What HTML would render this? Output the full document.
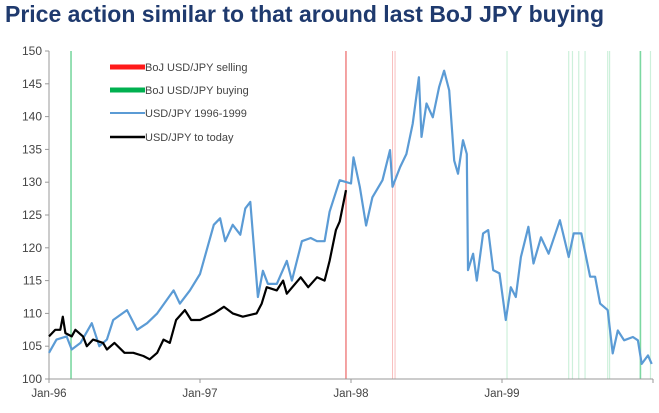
<!DOCTYPE html>
<html><head><meta charset="utf-8"><style>
body{margin:0;background:#fff;width:659px;height:413px;overflow:hidden;font-family:"Liberation Sans",sans-serif}
#title{position:absolute;left:5px;top:1px;font-size:23px;font-weight:bold;color:#1f3a6e;white-space:nowrap}
svg{position:absolute;left:0;top:0}
</style></head><body>
<div id="title">Price action similar to that around last BoJ JPY buying</div>
<svg id="chart" width="659" height="413"></svg>
<script>
const yTicks=[100,105,110,115,120,125,130,135,140,145,150];
const xTickLabels=["Jan-96","Jan-97","Jan-98","Jan-99"];
const xTickMonths=[0,12,24,36];
const blueMonths=[0,0.6,1.4,1.8,2.5,3.4,4,4.6,5.1,6.2,7,7.8,8.6,9.9,10.4,11.2,12,13.1,13.6,14,14.6,15.2,15.6,16,16.5,16.6,17,17.4,18.1,18.9,19.3,19.7,20.1,20.8,21.3,21.9,22.3,23.1,24,24.2,24.7,25.2,25.7,26.5,27.1,27.3,27.9,28.4,28.9,29.4,29.6,30,30.5,31,31.4,31.8,32.2,32.5,32.9,33.2,33.3,33.7,34,34.5,34.9,35.3,35.8,36.3,36.7,37.1,37.5,38.1,38.5,39.1,39.7,40.6,41.3,41.7,42.3,43,43.4,43.8,44.4,44.8,45.2,45.7,46.4,46.8,47.1,47.6,47.9];
const blueValues=[104,106,106.5,104.5,105.5,108.5,105,106,109,110.5,107.5,108.5,110,113.5,111.5,113.5,116,123.5,124.5,121,123.5,122,126,127,115,112.5,116.5,114.5,114.5,118,115,118,121,121.5,121,121,125.5,130.3,129.8,133.8,129.3,123.4,127.7,130.3,134.9,129.3,132.3,134.3,138.9,146,136.9,142,139.9,144.5,147,144,133.3,131.3,136.4,134.3,116.6,119.1,115,122.2,122.7,116.6,116.1,109,114,112.5,118.6,123.2,117.6,121.6,119.1,124.2,118.6,122.2,122.2,115.6,115.6,111.5,110.5,103.9,107.4,105.9,106.4,105.9,102.3,103.6,102.3];
const blackMonths=[0,0.5,0.9,1.1,1.3,1.8,2.1,2.7,3,3.5,4.3,4.6,5.2,6,6.7,7.5,8,8.6,9.1,9.6,10.1,10.8,11.3,12,13.1,13.9,14.6,15.4,16.5,16.9,17.3,18.1,18.6,18.9,20,20.6,21.3,21.9,22.3,22.8,23.1,23.6];
const blackValues=[106.5,107.5,107.5,109.5,107,106.5,107.5,106.5,105,106,105.5,104.5,105.5,104,104,103.5,103,104,106,105.5,109,110.5,109,109,110,111,110,109.5,110,111.5,114,113.5,115,113,115.5,114,115.5,115,118,122.7,124,128.8];
const sellMonths=[23.6,27.3,27.5];
const buyMonths=[1.75,36.4,41.3,41.6,42.1,42.6,44.4,44.55,47,47.8];
const buyStrong=[1,0,0,0,0,0,0,0,1,0];

const NS="http://www.w3.org/2000/svg",svg=document.getElementById('chart');
const X0=49,X1=653,Y0=379,Y1=51;
const xs=m=>X0+m*(X1-X0)/48;
const ys=v=>Y0-(v-100)*(Y0-Y1)/50;
function mk(t,a,p){const e=document.createElementNS(NS,t);for(const k in a)e.setAttribute(k,a[k]);(p||svg).appendChild(e);return e;}
sellMonths.forEach((m,i)=>{const l=mk('line',{x1:xs(m),x2:xs(m),y1:Y1,y2:Y0,stroke:'#f08080','stroke-width':i==0?1.6:1,opacity:i==0?0.9:0.5});

});
buyMonths.forEach((m,i)=>{const l=mk('line',{x1:xs(m),x2:xs(m),y1:Y1,y2:Y0,stroke:'#5ccf8a','stroke-width':buyStrong[i]?1.6:1.2,opacity:buyStrong[i]?0.8:0.3});

});
let a=mk('line',{x1:X0,x2:X0,y1:Y1,y2:Y0,stroke:'#999'});
a=mk('line',{x1:X0,x2:X1,y1:Y0,y2:Y0,stroke:'#999'});
yTicks.forEach(v=>{mk('line',{x1:X0-4,x2:X0,y1:ys(v),y2:ys(v),stroke:'#999'});
const t=mk('text',{x:X0-7,y:ys(v)+4,'text-anchor':'end','font-size':12,fill:'#444','font-family':'Liberation Sans'});t.textContent=v;

});
xTickMonths.concat([48]).forEach(m=>mk('line',{x1:xs(m),x2:xs(m),y1:Y0,y2:Y0+4,stroke:'#999'}));
xTickLabels.forEach((s,i)=>{const t=mk('text',{x:xs(xTickMonths[i]),y:Y0+18,'text-anchor':'middle','font-size':11.5,fill:'#444','font-family':'Liberation Sans'});t.textContent=s;

});
const pts=(ms,vs)=>ms.map((m,i)=>xs(m).toFixed(1)+','+ys(vs[i]).toFixed(1)).join(' ');
let p=mk('polyline',{points:pts(blueMonths,blueValues),fill:'none',stroke:'#5b9bd5','stroke-width':2.2,'stroke-linejoin':'round'});


p=mk('polyline',{points:pts(blackMonths,blackValues),fill:'none',stroke:'#000','stroke-width':2.2,'stroke-linejoin':'round'});


const leg=[['BoJ USD/JPY selling','#ff1a1a',5,67],['BoJ USD/JPY buying','#00b050',5,90],['USD/JPY 1996-1999','#5b9bd5',2,113],['USD/JPY to today','#000',2.5,137]];
const lg=mk('g',{});
leg.forEach(d=>{const g=mk('g',{},lg);
mk('line',{x1:110,x2:145,y1:d[3],y2:d[3],stroke:d[1],'stroke-width':d[2]},g);
const t=mk('text',{x:145,y:d[3]+4,'font-size':11,fill:'#444','font-family':'Liberation Sans'},g);t.textContent=d[0];});
</script></body></html>
